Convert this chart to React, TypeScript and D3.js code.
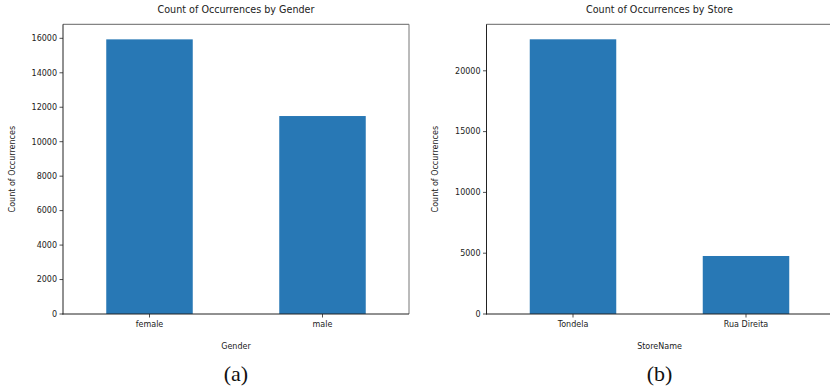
import React from "react";
import * as d3 from "d3";

// Counts per gender
const genderCategories = ["female", "male"];
const genderCounts = [15940, 11490];
const genderTicks = [0, 2000, 4000, 6000, 8000, 10000, 12000, 14000, 16000];

// Counts per store
const storeCategories = ["Tondela", "Rua Direita"];
const storeCounts = [22590, 4770];
const storeTicks = [0, 5000, 10000, 15000, 20000];

const BAR_COLOR = "#2878b5";
const SANS = "'DejaVu Sans', sans-serif";

type PanelProps = {
  left: number;
  title: string;
  xLabel: string;
  caption: string;
  categories: string[];
  values: number[];
  ticks: number[];
  yMax: number;
};

function Panel({ left, title, xLabel, caption, categories, values, ticks, yMax }: PanelProps) {
  const top = 24.3;
  const bottom = 314;
  const width = 346;
  const right = left + width;

  const x = d3.scaleBand<string>().domain(categories).range([left, right]).paddingInner(0.5).paddingOuter(0.25);
  const y = d3.scaleLinear().domain([0, yMax]).range([bottom, top]);
  const cx = (c: string) => (x(c) as number) + x.bandwidth() / 2;
  const midX = left + width / 2;

  return (
    <g>
      <text x={midX} y={13} textAnchor="middle" fontFamily={SANS} fontSize={9.6} fill="#222">
        {title}
      </text>
      {categories.map((c, i) => (
        <rect
          key={c}
          x={x(c)}
          y={y(values[i])}
          width={x.bandwidth()}
          height={bottom - y(values[i])}
          fill={BAR_COLOR}
        />
      ))}
      {/* frame */}
      <line x1={left} x2={right} y1={top} y2={top} stroke="#666" strokeWidth={1} />
      <line x1={right} x2={right} y1={top} y2={bottom} stroke="#777" strokeWidth={1} />
      <line x1={left} x2={left} y1={top} y2={bottom + 0.5} stroke="#222" strokeWidth={1} />
      <line x1={left - 0.5} x2={right} y1={bottom} y2={bottom} stroke="#222" strokeWidth={1} />
      {/* y ticks */}
      {ticks.map((t) => (
        <g key={t}>
          <line x1={left - 3.5} x2={left} y1={y(t)} y2={y(t)} stroke="#222" strokeWidth={0.8} />
          <text
            x={left - 6}
            y={y(t)}
            dy="0.35em"
            textAnchor="end"
            fontFamily={SANS}
            fontSize={8}
            fill="#222"
          >
            {t}
          </text>
        </g>
      ))}
      {/* x ticks */}
      {categories.map((c) => (
        <g key={c}>
          <line x1={cx(c)} x2={cx(c)} y1={bottom} y2={bottom + 3.5} stroke="#222" strokeWidth={0.8} />
          <text x={cx(c)} y={324} dy="0.35em" textAnchor="middle" fontFamily={SANS} fontSize={8} fill="#222">
            {c}
          </text>
        </g>
      ))}
      <text x={midX} y={346} dy="0.35em" textAnchor="middle" fontFamily={SANS} fontSize={8} fill="#222">
        {xLabel}
      </text>
      <text
        transform={`translate(${left - 51},${(top + bottom) / 2}) rotate(-90)`}
        textAnchor="middle"
        dy="0.35em"
        fontFamily={SANS}
        fontSize={8}
        fill="#222"
      >
        Count of Occurrences
      </text>
      <text
        x={midX}
        y={373}
        dy="0.35em"
        textAnchor="middle"
        fontFamily="'Liberation Serif', 'DejaVu Serif', serif"
        fontSize={22}
        fill="#111"
      >
        {caption}
      </text>
    </g>
  );
}

export default function App() {
  return (
    <svg
      width={830}
      height={389}
      viewBox="0 0 830 389"
      style={{ position: "absolute", left: 0, top: 0, background: "#fff" }}
    >
      <rect width={830} height={389} fill="#fff" />
      <Panel
        left={63}
        title="Count of Occurrences by Gender"
        xLabel="Gender"
        caption="(a)"
        categories={genderCategories}
        values={genderCounts}
        ticks={genderTicks}
        yMax={16814}
      />
      <Panel
        left={486.5}
        title="Count of Occurrences by Store"
        xLabel="StoreName"
        caption="(b)"
        categories={storeCategories}
        values={storeCounts}
        ticks={storeTicks}
        yMax={23824}
      />
    </svg>
  );
}
